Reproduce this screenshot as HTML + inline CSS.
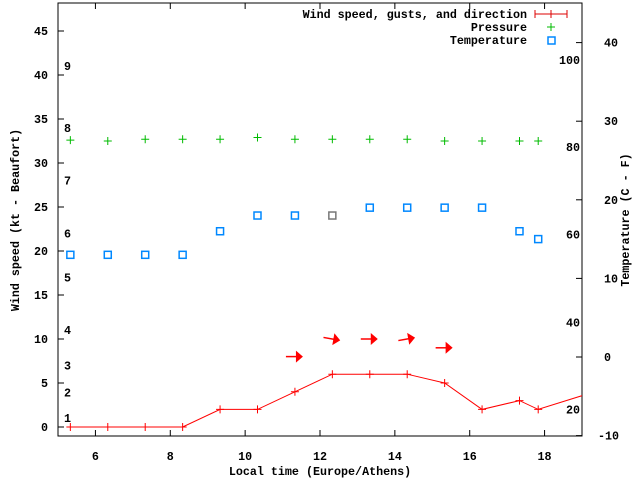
<!DOCTYPE html>
<html><head><meta charset="utf-8"><style>
body{margin:0;background:#fff}
svg text{font-family:"Liberation Mono","DejaVu Sans Mono",monospace;font-size:11.7px;font-weight:bold;fill:#000}
</style></head><body>
<svg id="chart" width="640" height="480" xmlns="http://www.w3.org/2000/svg">
<g id="axes"></g><g id="series"></g>
</svg>
<script>
const hours=[5.33,6.33,7.33,8.33,9.33,10.33,11.33,12.33,13.33,14.33,15.33,16.33,17.33,17.83,19.33];
const windKt=[0,0,0,0,2,2,4,6,6,6,5,2,3,2,4];
const pressHours=[5.33,6.33,7.33,8.33,9.33,10.33,11.33,12.33,13.33,14.33,15.33,16.33,17.33,17.83];
const pressureKtScale=[32.6,32.5,32.7,32.7,32.7,32.9,32.7,32.7,32.7,32.7,32.5,32.5,32.5,32.5];
const tempC=[13,13,13,13,16,18,18,18,19,19,19,19,16,15];
const arrowHours=[11.33,12.33,13.33,14.33,15.33];
const arrowKt=[8,10,10,10,9];
const arrowAngleDeg=[0,10,0,-10,0];
const xTicks=[6,8,10,12,14,16,18];
const yTicks=[0,5,10,15,20,25,30,35,40,45];
const tTicks=[-10,0,10,20,30,40];
const beaufort=["1","2","3","4","5","6","7","8","9"];
const beaufortKt=[1,3.9,7,11,17,22,28,34,41];
const fTicks=["20","40","60","80","100"];
const fTicksC=[-6.7,4.4,15.6,26.7,37.8];

const L=58,R=582,T=3,B=436;
const x=h=>L+(h-5)*(R-L)/14;
const y=k=>427-k*8.8;
const yt=c=>357-c*7.86;
const NS="http://www.w3.org/2000/svg";
const axes=document.getElementById('axes'),ser=document.getElementById('series');
function mk(p,tag,at,txt){const e=document.createElementNS(NS,tag);for(const k in at)e.setAttribute(k,at[k]);if(txt!=null)e.textContent=txt;p.appendChild(e);return e;}

let e=mk(axes,'rect',{x:L,y:T,width:R-L,height:B-T,fill:'none',stroke:'#000'});


xTicks.forEach(v=>{
 mk(axes,'line',{x1:x(v),x2:x(v),y1:B,y2:B-6,stroke:'#000'});
 mk(axes,'line',{x1:x(v),x2:x(v),y1:T,y2:T+6,stroke:'#000'});
 e=mk(axes,'text',{x:x(v),y:B+24,'text-anchor':'middle'},String(v));
 
 
});
yTicks.forEach(v=>{
 mk(axes,'line',{x1:L,x2:L+6,y1:y(v),y2:y(v),stroke:'#000'});
 e=mk(axes,'text',{x:L-10,y:y(v)+4,'text-anchor':'end'},String(v));
 
 
});
tTicks.forEach(v=>{
 mk(axes,'line',{x1:R-6,x2:R,y1:yt(v),y2:yt(v),stroke:'#000'});
 e=mk(axes,'text',{x:v<0?598:604,y:yt(v)+4},String(v));
 
 
});
beaufort.forEach((b,i)=>{
 e=mk(axes,'text',{x:64,y:y(beaufortKt[i])+4},b);
 
 
});
fTicks.forEach((f,i)=>{
 e=mk(axes,'text',{x:580,y:yt(fTicksC[i])+4,'text-anchor':'end'},f);
 
 
});
e=mk(axes,'text',{x:320,y:475,'text-anchor':'middle'},'Local time (Europe/Athens)');


e=mk(axes,'text',{x:0,y:0,'text-anchor':'middle',transform:'translate(19,220) rotate(-90)'},'Wind speed (kt - Beaufort)');


e=mk(axes,'text',{x:0,y:0,'text-anchor':'middle',transform:'translate(629,220) rotate(-90)'},'Temperature (C - F)');



const lg=mk(axes,'g',{});


mk(lg,'text',{x:527,y:18,'text-anchor':'end'},'Wind speed, gusts, and direction');
mk(lg,'line',{x1:535,x2:567,y1:14,y2:14,stroke:'#d00'});
mk(lg,'line',{x1:535,x2:535,y1:10,y2:18,stroke:'#d00'});
mk(lg,'line',{x1:567,x2:567,y1:10,y2:18,stroke:'#d00'});
mk(lg,'line',{x1:551,x2:551,y1:10,y2:18,stroke:'#d00'});
mk(lg,'text',{x:527,y:31,'text-anchor':'end'},'Pressure');
mk(lg,'path',{d:'M547 27h8M551 23v8',stroke:'#0b0',fill:'none'});
mk(lg,'text',{x:527,y:44,'text-anchor':'end'},'Temperature');
mk(lg,'rect',{x:548,y:37,width:7,height:7,fill:'none',stroke:'#08f','stroke-width':1.5});

const cp=mk(axes,'clipPath',{id:'clp'});mk(cp,'rect',{x:L,y:T,width:R-L,height:B-T});
const g=mk(ser,'g',{'clip-path':'url(#clp)'});
e=mk(g,'polyline',{points:hours.map((h,i)=>x(h)+','+y(windKt[i])).join(' '),fill:'none',stroke:'#f00'});


hours.forEach((h,i)=>{
 e=mk(g,'path',{d:`M${x(h)-4} ${y(windKt[i])}h8M${x(h)} ${y(windKt[i])-4}v8`,stroke:'#f00'});
 
 
});
pressHours.forEach((h,i)=>{
 e=mk(g,'path',{d:`M${x(h)-4} ${y(pressureKtScale[i])}h8M${x(h)} ${y(pressureKtScale[i])-4}v8`,stroke:'#0b0'});
 
 
 e=mk(g,'rect',{x:x(h)-3.5,y:yt(tempC[i])-3.5,width:7,height:7,fill:'none',stroke:i==7?'#777':'#08f','stroke-width':1.5});
 
 
});
arrowHours.forEach((h,i)=>{
 const cx=x(h),cy=y(arrowKt[i]);
 e=mk(g,'g',{transform:`translate(${cx},${cy}) rotate(${arrowAngleDeg[i]})`});
 
 
 mk(e,'line',{x1:-9,x2:2,y1:0,y2:0,stroke:'#f00','stroke-width':1.5});
 mk(e,'path',{d:'M1 -6L8 0L1 6Z',fill:'#f00'});
});
</script>
</body></html>
